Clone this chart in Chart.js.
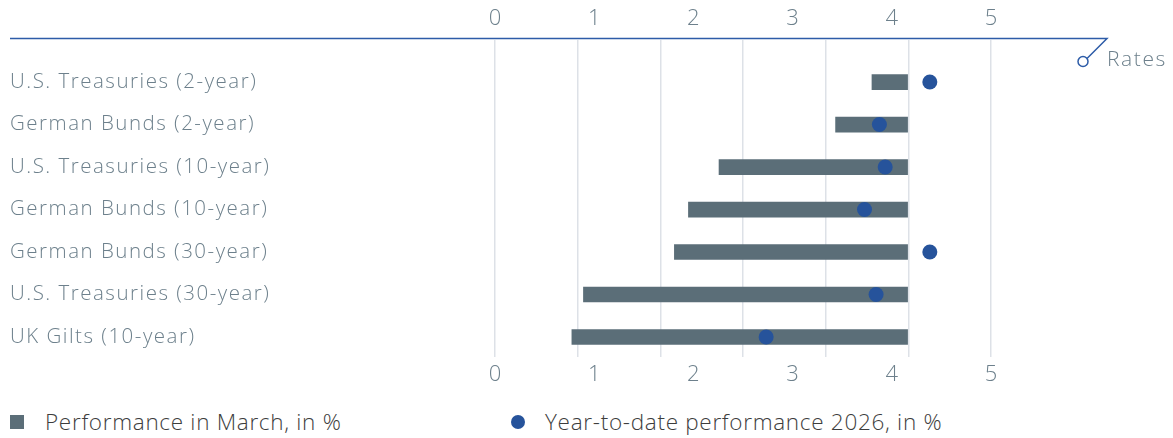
<!DOCTYPE html>
<html>
<head>
<meta charset="utf-8">
<script src="https://cdn.jsdelivr.net/npm/chart.js@4"></script>
<style>
  html, body { margin: 0; padding: 0; background: #fff; }
  body { width: 1173px; height: 438px; position: relative; overflow: hidden; font-family: "Open Sans", sans-serif; font-weight: 300; }
  #wrap { position: absolute; left: 0; top: 0; width: 1173px; height: 395px; }
  #rates { position: absolute; left: 1107px; top: 44px; font-size: 21px; letter-spacing: 1.6px; color: #6d808c; }
  .legend { position: absolute; top: 406px; font-size: 22.5px; letter-spacing: 0.7px; color: #3d3d3d; display: flex; align-items: center; }
  .legend .sq { width: 14px; height: 14px; background: #5b6e78; margin-right: 21px; }
  .legend .dot { width: 14px; height: 14px; border-radius: 50%; background: #26539b; margin-right: 20px; }
</style>
</head>
<body>
<div id="wrap"><canvas id="chart"></canvas></div>
<div id="rates">Rates</div>
<div class="legend" style="left:10px"><span class="sq"></span>Performance in March, in %</div>
<div class="legend" style="left:511px"><span class="dot"></span>Year-to-date performance 2026, in %</div>
<script>
const categories = [
  "U.S. Treasuries (2-year)",
  "German Bunds (2-year)",
  "U.S. Treasuries (10-year)",
  "German Bunds (10-year)",
  "German Bunds (30-year)",
  "U.S. Treasuries (30-year)",
  "UK Gilts (10-year)"
];
// Performance in March, in % (bars run from the value up to 0)
const marchPerf = [-0.44, -0.88, -2.29, -2.66, -2.83, -3.93, -4.07];
// Year-to-date performance 2026, in %
const ytdPerf = [0.26, -0.35, -0.28, -0.53, 0.26, -0.39, -1.72];
// tick labels printed above and below the plot
const axisLabels = [0, 1, 2, 3, 4, 5];

const textGrey = "#6d808c";
const tickFont = { family: "'Open Sans', sans-serif", size: 22, weight: 300 };
const catFont = { family: "'Open Sans', sans-serif", size: 20.5, weight: 300 };

const ratesLine = {
  id: "ratesLine",
  afterDraw(chart) {
    const ctx = chart.ctx, a = chart.chartArea;
    const y = a.top - 1.5;
    const xEnd = a.right + 116;
    ctx.save();
    ctx.strokeStyle = "#2d5ca8";
    ctx.lineWidth = 1.5;
    ctx.beginPath();
    ctx.moveTo(10, y);
    ctx.lineTo(xEnd, y);
    ctx.lineTo(xEnd - 20, y + 20);
    ctx.stroke();
    ctx.beginPath();
    ctx.arc(xEnd - 24, y + 23, 5, 0, Math.PI * 2);
    ctx.fillStyle = "#fff";
    ctx.fill();
    ctx.stroke();
    ctx.restore();
  }
};

// category labels are set with a little tracking
function trackLabels(s) {
  if (s._tracked) return;
  s._tracked = true;
  const orig = s.drawLabels;
  s.drawLabels = function (area) {
    this.ctx.save();
    this.ctx.letterSpacing = "1.5px";
    orig.call(this, area);
    this.ctx.restore();
  };
}

new Chart(document.getElementById("chart"), {
  type: "bar",
  data: {
    datasets: [
      {
        type: "scatter",
        label: "Year-to-date performance 2026, in %",
        data: ytdPerf.map((v, i) => ({ x: v, y: i })),
        xAxisID: "x",
        yAxisID: "y",
        backgroundColor: "#26539b",
        borderWidth: 0,
        pointRadius: 7.5,
        pointHoverRadius: 7.5
      },
      {
        label: "Performance in March, in %",
        data: marchPerf.map((v, i) => ({ x: [v, 0], y: i })),
        xAxisID: "x",
        yAxisID: "y",
        backgroundColor: "#5b6e78",
        barThickness: 15,
        borderWidth: 0
      }
    ]
  },
  options: {
    indexAxis: "y",
    responsive: true,
    maintainAspectRatio: false,
    animation: false,
    layout: { padding: { left: 10, right: 182, top: 0, bottom: 0 } },
    plugins: { legend: { display: false }, tooltip: { enabled: false } },
    scales: {
      y: {
        type: "linear",
        reverse: true,
        offset: false,
        min: -0.99,
        max: 6.47,
        position: "left",
        grid: { display: false, offset: false },
        border: { display: false },
        afterBuildTicks: s => { s.ticks = categories.map((_, i) => ({ value: i })); },
        afterFit: s => { s.width = 485; },
        afterUpdate: trackLabels,
        ticks: {
          crossAlign: "far",
          color: textGrey,
          font: catFont,
          callback: v => categories[v]
        }
      },
      x: {
        type: "linear",
        min: -5,
        max: 1,
        position: "bottom",
        grid: { color: "#dde1e7", lineWidth: 1.5, drawTicks: false },
        border: { display: false },
        ticks: { display: false, stepSize: 1 },
        afterFit: s => { s.height = 0; }
      },
      xTop: {
        type: "linear",
        min: 0,
        max: 5,
        position: "top",
        grid: { display: false },
        border: { display: false },
        afterBuildTicks: s => { s.ticks = axisLabels.map(v => ({ value: v })); },
        afterFit: s => { s.height = 40; },
        ticks: { color: textGrey, font: tickFont, padding: 0 }
      },
      xBot: {
        type: "linear",
        min: 0,
        max: 5,
        position: "bottom",
        grid: { display: false },
        border: { display: false },
        afterBuildTicks: s => { s.ticks = axisLabels.map(v => ({ value: v })); },
        afterFit: s => { s.height = 38; },
        ticks: { color: textGrey, font: tickFont, padding: -3 }
      }
    }
  },
  plugins: [ratesLine]
});
</script>
</body>
</html>
